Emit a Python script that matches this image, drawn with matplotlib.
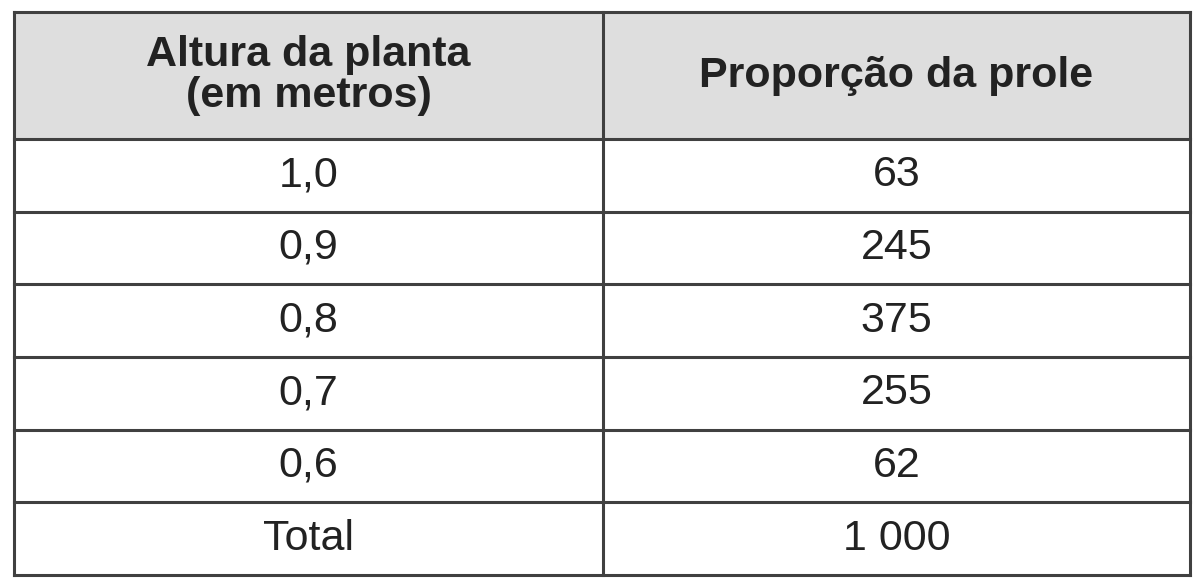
import matplotlib
matplotlib.use("Agg")
import matplotlib.pyplot as plt
from matplotlib.patches import Rectangle

header = ["Altura da planta\n(em metros)", "Proporção da prole"]
heights = ["1,0", "0,9", "0,8", "0,7", "0,6", "Total"]
offspring = ["63", "245", "375", "255", "62", "1 000"]

fig = plt.figure(figsize=(12, 5.81), dpi=100)
ax = fig.add_axes([0, 0, 1, 1])
ax.set_xlim(0, 1200); ax.set_ylim(581, 0); ax.axis("off")

x0, x1, xm = 14, 1190, 603
y_head0, y_head1 = 12, 139
row_h = (575 - y_head1) / len(heights)
lc = "#404040"; lw = 2.2
fam = ["Liberation Sans", "DejaVu Sans"]

ax.add_patch(Rectangle((x0, y_head0), x1 - x0, y_head1 - y_head0, facecolor="#dedede", edgecolor="none"))
ax.text((x0 + xm) / 2, (y_head0 + y_head1) / 2, header[0], ha="center", va="center",
        fontsize=31, fontweight="bold", family=fam, color="#222222", linespacing=1.05)
ax.text((xm + x1) / 2, (y_head0 + y_head1) / 2, header[1], ha="center", va="center",
        fontsize=31, fontweight="bold", family=fam, color="#222222")

for i, (h, o) in enumerate(zip(heights, offspring)):
    yc = y_head1 + (i + 0.5) * row_h
    ax.text((x0 + xm) / 2, yc, h, ha="center", va="center", fontsize=31, family=fam, color="#222222")
    ax.text((xm + x1) / 2, yc, o, ha="center", va="center", fontsize=31, family=fam, color="#222222")

for i in range(len(heights) + 1):
    y = y_head1 + i * row_h
    ax.plot([x0, x1], [y, y], color=lc, lw=lw)
ax.plot([x0, x1], [y_head0, y_head0], color=lc, lw=lw)
ax.plot([x0, x0], [y_head0, 575], color=lc, lw=lw)
ax.plot([x1, x1], [y_head0, 575], color=lc, lw=lw)
ax.plot([xm, xm], [y_head0, 575], color=lc, lw=lw)

fig.savefig("out.png", dpi=100)
